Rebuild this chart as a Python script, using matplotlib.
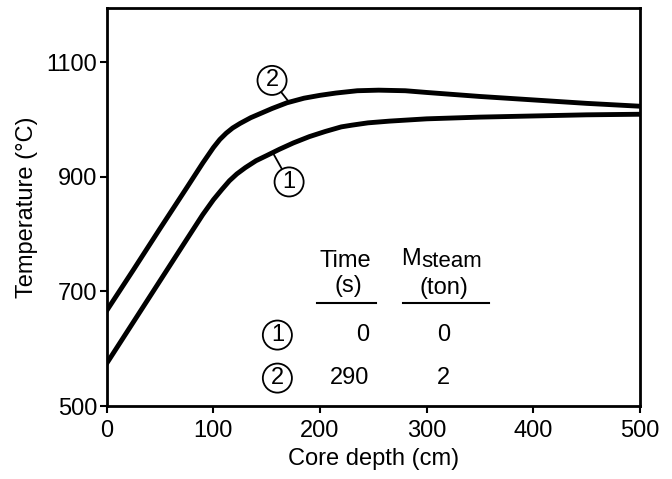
import matplotlib
matplotlib.use("Agg")
import matplotlib.pyplot as plt
import matplotlib.transforms as mtransforms

plt.rcParams['font.family'] = ['Liberation Sans', 'DejaVu Sans']

# curve 1: t = 0 s, 0 ton steam
depth_1 = [0, 25, 50, 75, 90, 100, 108, 115, 122, 130, 140, 150, 162, 175, 190, 205,
           220, 230, 245, 265, 300, 350, 400, 450, 500]
temp_1 = [575, 647, 719, 791, 834, 860, 878, 893, 905, 916, 928, 937, 948, 959, 970, 979,
          987, 990, 994, 997, 1001, 1004, 1006, 1008, 1009]

# curve 2: t = 290 s, 2 ton steam
depth_2 = [0, 25, 50, 75, 90, 100, 106, 112, 118, 125, 135, 145, 155, 169, 185, 200,
           215, 235, 255, 280, 300, 350, 400, 450, 500]
temp_2 = [667, 738, 810, 881, 924, 951, 965, 976, 985, 993, 1003, 1011, 1019, 1029, 1037, 1042,
          1046, 1050, 1051, 1050, 1047, 1040, 1034, 1028, 1023]

time_s = ["0", "290"]
steam_ton = ["0", "2"]
case_ids = ["1", "2"]

fig = plt.figure(figsize=(6.72, 4.79), dpi=100)
ax = fig.add_axes([0.159, 0.152, 0.793, 0.831])

ax.plot(depth_1, temp_1, color="black", linewidth=3.5, solid_joinstyle="round")
ax.plot(depth_2, temp_2, color="black", linewidth=3.5, solid_joinstyle="round")

ax.set_xlim(0, 500)
ax.set_ylim(500, 1194)
ax.set_xticks([0, 100, 200, 300, 400, 500])
ax.set_yticks([500, 700, 900, 1100])
for s in ax.spines.values():
    s.set_linewidth(2.0)
ax.tick_params(direction="out", length=5, width=1.5, labelsize=17, pad=2)
ax.tick_params(axis="x", pad=5)
ax.set_xlabel("Core depth (cm)", fontsize=17, labelpad=4)
ax.set_ylabel("Temperature (\u00b0C)", fontsize=17, labelpad=6)

circ = dict(boxstyle="circle,pad=0.15", fc="white", ec="black", lw=1.3)
# curve labels with leader lines
ax.annotate("2", xy=(171, 1030), xytext=(155, 1068), fontsize=17, ha="center", va="center",
            bbox=circ, arrowprops=dict(arrowstyle="-", lw=1.3, shrinkA=0, shrinkB=0))
ax.annotate("1", xy=(156, 941), xytext=(171, 891), fontsize=17, ha="center", va="center",
            bbox=circ, arrowprops=dict(arrowstyle="-", lw=1.3, shrinkA=0, shrinkB=0))

# small table
ax.text(224, 753, "Time", fontsize=17, ha="center", va="center")
ax.text(227, 709, "(s)", fontsize=17, ha="center", va="center")
ax.text(295, 747, "M", fontsize=17, ha="right", va="baseline")
low = mtransforms.offset_copy(ax.transData, fig=fig, x=0, y=-2, units="points")
ax.text(295, 747, "steam", fontsize=16, ha="left", va="baseline", transform=low)
ax.text(316, 706, "(ton)", fontsize=17, ha="center", va="center")
ax.plot([197, 253], [680, 680], color="black", lw=1.5)
ax.plot([278, 359], [680, 680], color="black", lw=1.5)

row_y = [624, 549]
for cid, t, m, y in zip(case_ids, time_s, steam_ton, row_y):
    ax.text(160, y, cid, fontsize=17, ha="center", va="center", bbox=circ)
    ax.text(246, y, t, fontsize=17, ha="right", va="center")
    ax.text(316, y, m, fontsize=17, ha="center", va="center")

fig.savefig("out.png", dpi=100)
plt.close(fig)
